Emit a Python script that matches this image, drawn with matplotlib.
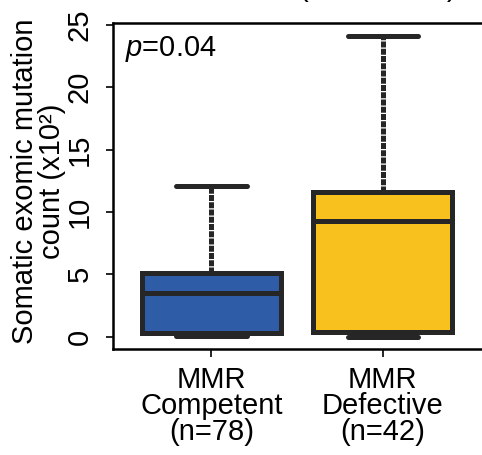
import matplotlib
matplotlib.use("Agg")
import matplotlib.pyplot as plt

plt.rcParams["font.family"] = ["Liberation Sans", "DejaVu Sans"]
plt.rcParams["mathtext.fontset"] = "custom"
plt.rcParams["mathtext.it"] = "Liberation Sans:italic"
plt.rcParams["mathtext.rm"] = "Liberation Sans"

# data (x10^2)
groups = ["MMR\nCompetent\n(n=78)", "MMR\nDefective\n(n=42)"]
whis_lo = [0.05, 0.0]
q1 = [0.25, 0.4]
med = [3.5, 9.25]
q3 = [5.1, 11.6]
whis_hi = [12.1, 24.1]
colors = ["#2f5ca6", "#f9c11d"]
p_text = "=0.04"

dark = "#262626"

fig = plt.figure(figsize=(4.82, 4.55), dpi=100)
ax = fig.add_axes([113 / 482, 1 - 349 / 455, 1.05 - 113 / 482, (349 - 23) / 455])

stats = []
for i in range(len(groups)):
    stats.append({"med": med[i], "q1": q1[i], "q3": q3[i],
                  "whislo": whis_lo[i], "whishi": whis_hi[i], "fliers": []})

bp = ax.bxp(stats, positions=[1, 2], widths=0.81, patch_artist=True,
            showfliers=False,
            boxprops=dict(linewidth=3.6, edgecolor=dark),
            medianprops=dict(linewidth=3.6, color=dark, solid_capstyle="butt"),
            whiskerprops=dict(linewidth=3.6, color=dark, linestyle=(0, (1.2, 0.25))),
            capprops=dict(linewidth=3.6, color=dark, solid_capstyle="round"),
            capwidths=0.41)
for patch, c in zip(bp["boxes"], colors):
    patch.set_facecolor(c)
    patch.set_joinstyle("miter")

ax.set_xlim(0.425, 2.72)
ax.set_ylim(-1.0, 25.15)
ax.set_yticks([0, 5, 10, 15, 20, 25])
ax.set_xticks([1, 2])
ax.set_xticklabels(groups, fontsize=21, linespacing=0.92)
ax.tick_params(axis="y", labelsize=21, length=5, width=1.2, pad=9)
ax.tick_params(axis="x", length=6, width=1.2, pad=6)
for lab in ax.get_yticklabels():
    lab.set_rotation(90)
    lab.set_va("center")

ax.spines["right"].set_visible(False)
for s in ["left", "bottom", "top"]:
    ax.spines[s].set_linewidth(1.8)

ax.set_ylabel("Somatic exomic mutation\ncount (x10²)", fontsize=21,
              linespacing=0.95)
ax.yaxis.set_label_coords(-0.12, 0.515)

ax.text(0.03, 0.965, "$p$" + p_text, transform=ax.transAxes, fontsize=21,
        va="top", ha="left")

# bottoms of a clipped heading above the plot
fig.text(0.783, 1.0 + 4 / 455, "(                 )", fontsize=21,
         ha="center", va="baseline")

fig.savefig("out.png", dpi=100)
